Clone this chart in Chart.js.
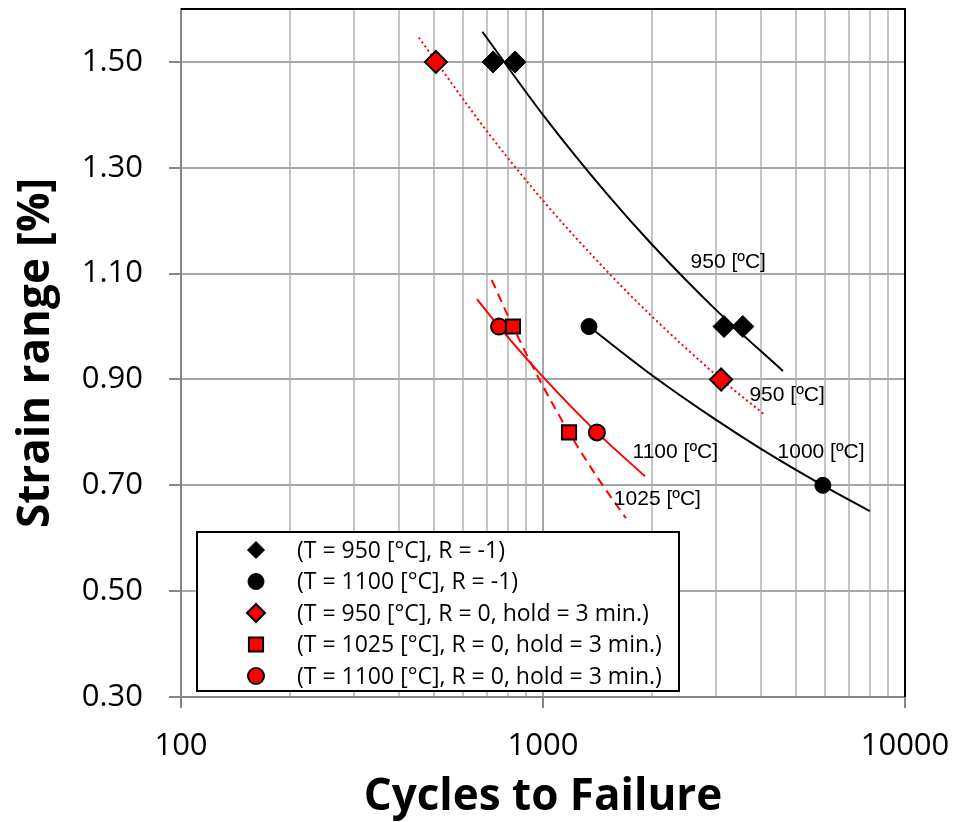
<!DOCTYPE html>
<html>
<head>
<meta charset="utf-8">
<script src="https://cdn.jsdelivr.net/npm/chart.js@4.4.0/dist/chart.umd.min.js"></script>
<style>
  html, body { margin: 0; padding: 0; background: #fff; }
  #wrap { width: 953px; height: 822px; }
</style>
</head>
<body>
<div id="wrap"><canvas id="chart" width="953" height="822"></canvas></div>
<script>
// ---- measured points (cycles to failure, strain range %) ----
const seriesLabels = [
  '(T = 950 [°C], R = -1)',
  '(T = 1100 [°C], R = -1)',
  '(T = 950 [°C], R = 0, hold = 3 min.)',
  '(T = 1025 [°C], R = 0, hold = 3 min.)',
  '(T = 1100 [°C], R = 0, hold = 3 min.)'
];
const t950R1X = [728, 837, 3162, 3565];
const t950R1Y = [1.50, 1.50, 1.00, 1.00];
const t1100R1X = [1340, 5930];
const t1100R1Y = [1.00, 0.70];
const t950R0X = [506, 3105];
const t950R0Y = [1.50, 0.90];
const t1025R0X = [826, 1180];
const t1025R0Y = [1.00, 0.80];
const t1100R0X = [756, 1409];
const t1100R0Y = [1.00, 0.80];

// ---- trend curves ----
const fit950R1X = [680, 1000, 1500, 2000, 3000, 4600];
const fit950R1Y = [1.557, 1.400, 1.251, 1.155, 1.032, 0.916];
const fit950R0X = [454, 700, 1000, 1500, 2000, 3000, 4100];
const fit950R0Y = [1.546, 1.369, 1.238, 1.105, 1.019, 0.909, 0.833];
const fit1100R1X = [1340, 2000, 3000, 4000, 5930, 8000];
const fit1100R1Y = [1.000, 0.908, 0.824, 0.769, 0.700, 0.651];
const fit1100R0X = [657, 756, 1000, 1409, 1913];
const fit1100R0Y = [1.052, 1.000, 0.905, 0.800, 0.717];
const fit1025R0X = [722, 826, 1000, 1180, 1400, 1694];
const fit1025R0Y = [1.088, 1.000, 0.887, 0.800, 0.719, 0.638];

// ---- curve labels ----
const curveLabelText = ['950 [ºC]', '950 [ºC]', '1100 [ºC]', '1000 [ºC]', '1025 [ºC]'];
const curveLabelX = [3249, 4725, 2320, 5864, 2070];
const curveLabelY = [1.122, 0.871, 0.763, 0.763, 0.674];

// ---- axis ticks ----
const xTicks = [100, 200, 300, 400, 500, 600, 700, 800, 900, 1000,
  2000, 3000, 4000, 5000, 6000, 7000, 8000, 9000, 10000];
const xMajor = [100, 1000, 10000];
const yTicks = [0.30, 0.50, 0.70, 0.90, 1.10, 1.30, 1.50, 1.60];

const pts = (xs, ys) => xs.map((x, i) => ({ x, y: ys[i] }));
const isMajor = v => xMajor.includes(v);

const markerSets = [
  { label: seriesLabels[0], data: pts(t950R1X, t950R1Y), pointStyle: 'rectRot', pointRadius: 11, backgroundColor: '#000', borderColor: '#000', borderWidth: 1, legendRadius: 8.5 },
  { label: seriesLabels[1], data: pts(t1100R1X, t1100R1Y), pointStyle: 'circle', pointRadius: 8, backgroundColor: '#000', borderColor: '#000', borderWidth: 1, legendRadius: 8 },
  { label: seriesLabels[2], data: pts(t950R0X, t950R0Y), pointStyle: 'rectRot', pointRadius: 11, backgroundColor: '#ff0000', borderColor: '#000', borderWidth: 2, legendRadius: 9 },
  { label: seriesLabels[3], data: pts(t1025R0X, t1025R0Y), pointStyle: 'rect', pointRadius: 10, backgroundColor: '#ff0000', borderColor: '#000', borderWidth: 2, legendRadius: 10 },
  { label: seriesLabels[4], data: pts(t1100R0X, t1100R0Y), pointStyle: 'circle', pointRadius: 8, backgroundColor: '#ff0000', borderColor: '#000', borderWidth: 2, legendRadius: 8 }
].map(d => Object.assign(d, { showLine: false, pointHoverRadius: d.pointRadius }));

const curve = (xs, ys, color, dash) => ({
  data: pts(xs, ys), showLine: true, pointRadius: 0, borderColor: color,
  borderWidth: 2, borderDash: dash, cubicInterpolationMode: 'monotone', fill: false
});

const curveSets = [
  curve(fit950R1X, fit950R1Y, '#000', []),
  curve(fit950R0X, fit950R0Y, '#ff0000', [2, 3]),
  curve(fit1100R1X, fit1100R1Y, '#000', []),
  curve(fit1100R0X, fit1100R0Y, '#ff0000', []),
  curve(fit1025R0X, fit1025R0Y, '#ff0000', [9, 6])
];

// frame, curve labels and the boxed legend inside the plot
const plotExtras = {
  id: 'plotExtras',
  afterDatasetsDraw(chart) {
    const { ctx, chartArea: a, scales: { x, y } } = chart;
    ctx.save();
    ctx.strokeStyle = '#000';
    ctx.lineWidth = 2;
    ctx.beginPath();
    ctx.moveTo(a.left, a.top);
    ctx.lineTo(a.right, a.top);
    ctx.lineTo(a.right, a.bottom);
    ctx.stroke();

    ctx.fillStyle = '#000';
    ctx.font = '21px "Liberation Sans", Arial, sans-serif';
    ctx.textAlign = 'center';
    ctx.textBaseline = 'middle';
    curveLabelText.forEach((t, i) => {
      ctx.fillText(t, x.getPixelForValue(curveLabelX[i]), y.getPixelForValue(curveLabelY[i]));
    });

    // legend box
    const bx = 197, by = 532, bw = 482, bh = 159;
    ctx.fillStyle = '#fff';
    ctx.fillRect(bx, by, bw, bh);
    ctx.strokeStyle = '#000';
    ctx.lineWidth = 2;
    ctx.strokeRect(bx, by, bw, bh);
    ctx.font = '23px "Open Sans", sans-serif';
    ctx.textAlign = 'left';
    markerSets.forEach((d, i) => {
      const ry = by + 18 + i * 31.5;
      ctx.fillStyle = d.backgroundColor;
      ctx.strokeStyle = d.borderColor;
      ctx.lineWidth = d.borderWidth;
      Chart.helpers.drawPoint(ctx, { pointStyle: d.pointStyle, radius: d.legendRadius, borderWidth: d.borderWidth, rotation: 0 }, bx + 59, ry);
      ctx.fillStyle = '#000';
      ctx.fillText(d.label, bx + 100, ry + 1);
    });
    ctx.restore();
  }
};

new Chart(document.getElementById('chart'), {
  type: 'scatter',
  data: { datasets: [...markerSets, ...curveSets] },
  options: {
    responsive: false,
    animation: false,
    devicePixelRatio: 1,
    layout: { autoPadding: false, padding: { top: 9, right: 48, left: 0, bottom: 0 } },
    plugins: { legend: { display: false }, tooltip: { enabled: false } },
    scales: {
      x: {
        type: 'logarithmic',
        min: 100, max: 10000,
        afterBuildTicks: s => { s.ticks = xTicks.map(v => ({ value: v, major: isMajor(v) })); },
        afterFit: s => { s.height = 125; s.paddingLeft = 0; s.paddingRight = 0; },
        border: { color: '#868686', width: 2 },
        grid: {
          color: c => isMajor(c.tick && c.tick.value) ? '#a6a6a6' : '#c4c4c4',
          lineWidth: 2,
          tickLength: 11,
          tickColor: c => isMajor(c.tick && c.tick.value) ? '#868686' : 'rgba(0,0,0,0)'
        },
        ticks: {
          autoSkip: false, maxRotation: 0, padding: 20,
          color: '#000',
          font: { family: 'Open Sans', size: 31 },
          callback: v => isMajor(v) ? String(v) : ''
        },
        title: {
          display: true, text: 'Cycles to Failure', color: '#000',
          font: { family: 'Open Sans', size: 44, weight: 'bold', lineHeight: 1 },
          padding: { top: 0, bottom: 3 }
        }
      },
      y: {
        min: 0.30, max: 1.60,
        afterBuildTicks: s => { s.ticks = yTicks.map(v => ({ value: v })); },
        afterFit: s => { s.width = 181; s.paddingTop = 0; s.paddingBottom = 0; },
        border: { color: '#868686', width: 2 },
        grid: { color: '#a6a6a6', lineWidth: 2, tickLength: 12, tickColor: '#868686' },
        ticks: {
          padding: 26, color: '#000',
          font: { family: 'Open Sans', size: 31 },
          callback: v => v > 1.55 ? null : v.toFixed(2)
        },
        title: {
          display: true, text: 'Strain range [%]', color: '#000',
          font: { family: 'Open Sans', size: 44, weight: 'bold', lineHeight: 1 },
          padding: { top: 14, bottom: 0 }
        }
      }
    }
  },
  plugins: [plotExtras]
});
</script>
</body>
</html>
